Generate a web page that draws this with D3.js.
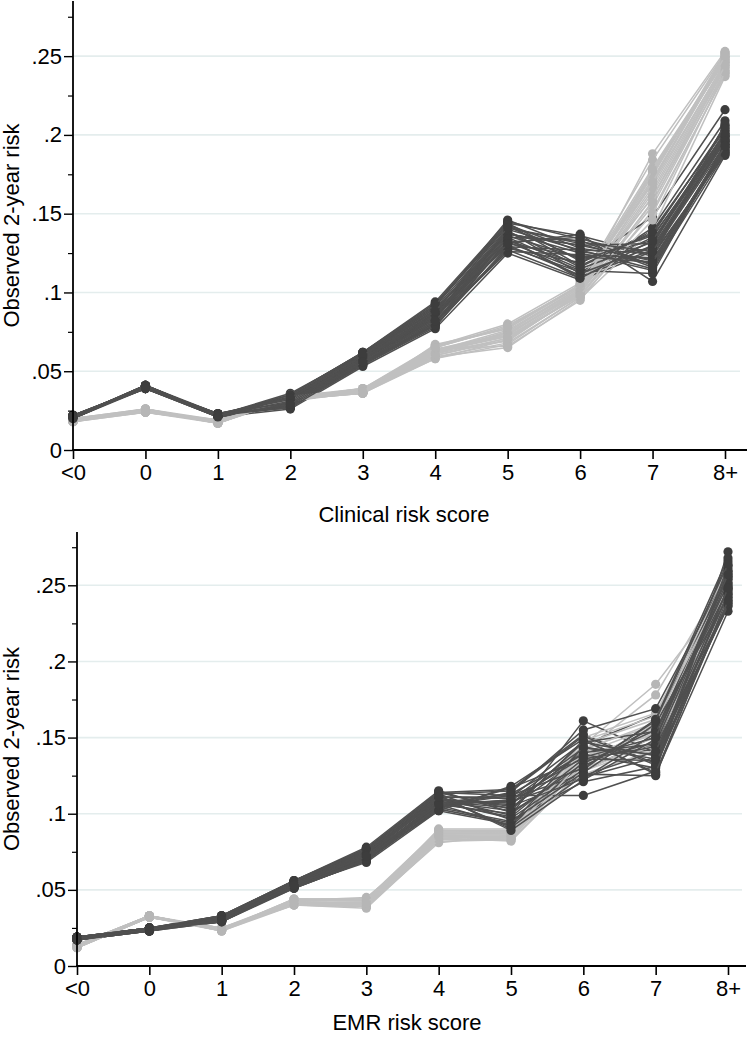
<!DOCTYPE html>
<html>
<head>
<meta charset="utf-8">
<script src="https://cdn.jsdelivr.net/npm/d3@7"></script>
<style>
  html, body { margin: 0; padding: 0; background: #fff; }
  svg { display: block; font-family: "Liberation Sans", Arial, sans-serif; }
</style>
</head>
<body>
<svg id="chart" width="748" height="1050"></svg>
<script>
// ---------- DATA ----------
const categories = ["<0", "0", "1", "2", "3", "4", "5", "6", "7", "8+"];
const yTickValues = [0, 0.05, 0.1, 0.15, 0.2, 0.25];
const yTickLabels = ["0", ".05", ".1", ".15", ".2", ".25"];
const yMinorTicks = [0.025, 0.075, 0.125, 0.175, 0.225, 0.275];
const topXTitle = "Clinical risk score";
const bottomXTitle = "EMR risk score";
const yTitle = "Observed 2-year risk";

// Top panel (Clinical risk score) – light gray replicates
const clinicalLight = [
  [0.019,0.025,0.018,0.033,0.037,0.062,0.072,0.100,0.165,0.245],
  [0.018,0.026,0.017,0.032,0.038,0.065,0.078,0.104,0.172,0.250],
  [0.020,0.024,0.019,0.034,0.036,0.059,0.068,0.097,0.158,0.240],
  [0.019,0.025,0.018,0.033,0.037,0.061,0.074,0.101,0.188,0.253],
  [0.019,0.025,0.018,0.031,0.038,0.064,0.066,0.095,0.152,0.238],
  [0.018,0.024,0.017,0.034,0.037,0.063,0.076,0.103,0.176,0.247],
  [0.020,0.026,0.019,0.032,0.036,0.058,0.070,0.099,0.161,0.243],
  [0.019,0.025,0.018,0.033,0.039,0.066,0.080,0.106,0.184,0.252],
  [0.019,0.025,0.018,0.035,0.037,0.060,0.071,0.098,0.155,0.241],
  [0.018,0.024,0.018,0.032,0.038,0.062,0.073,0.102,0.169,0.246],
  [0.020,0.026,0.017,0.033,0.036,0.067,0.077,0.105,0.179,0.249],
  [0.019,0.025,0.019,0.031,0.037,0.059,0.065,0.096,0.140,0.237],
  [0.019,0.025,0.018,0.034,0.038,0.063,0.069,0.100,0.163,0.244],
  [0.018,0.025,0.018,0.033,0.037,0.061,0.075,0.103,0.174,0.251],
  [0.020,0.024,0.018,0.032,0.036,0.064,0.072,0.098,0.150,0.239],
  [0.019,0.026,0.017,0.033,0.039,0.065,0.079,0.104,0.177,0.248],
  [0.019,0.025,0.018,0.032,0.037,0.063,0.073,0.101,0.167,0.246],
  [0.018,0.026,0.018,0.034,0.038,0.060,0.070,0.099,0.171,0.249],
  [0.020,0.025,0.017,0.033,0.036,0.066,0.077,0.104,0.160,0.242],
  [0.019,0.024,0.019,0.031,0.038,0.062,0.075,0.102,0.175,0.252],
  [0.019,0.025,0.018,0.033,0.037,0.058,0.067,0.097,0.146,0.240],
  [0.018,0.026,0.018,0.032,0.036,0.064,0.074,0.100,0.178,0.247],
  [0.020,0.025,0.017,0.034,0.039,0.061,0.071,0.098,0.157,0.244],
  [0.019,0.024,0.018,0.033,0.037,0.065,0.078,0.105,0.170,0.250]
];

// Top panel – dark gray replicates
const clinicalDark = [
  [0.021,0.040,0.022,0.030,0.057,0.084,0.136,0.122,0.128,0.197],
  [0.020,0.041,0.021,0.028,0.055,0.080,0.141,0.131,0.118,0.192],
  [0.022,0.039,0.023,0.033,0.060,0.088,0.129,0.113,0.135,0.201],
  [0.021,0.040,0.022,0.035,0.062,0.093,0.144,0.136,0.124,0.188],
  [0.021,0.041,0.023,0.027,0.054,0.078,0.133,0.118,0.148,0.216],
  [0.020,0.039,0.021,0.031,0.058,0.086,0.138,0.125,0.114,0.194],
  [0.022,0.040,0.022,0.029,0.056,0.082,0.127,0.109,0.130,0.206],
  [0.021,0.040,0.022,0.036,0.061,0.091,0.146,0.128,0.121,0.190],
  [0.021,0.041,0.022,0.032,0.059,0.087,0.131,0.137,0.107,0.187],
  [0.020,0.040,0.023,0.030,0.057,0.083,0.139,0.116,0.139,0.203],
  [0.022,0.039,0.021,0.026,0.053,0.077,0.125,0.108,0.126,0.196],
  [0.021,0.040,0.022,0.034,0.060,0.090,0.142,0.121,0.133,0.199],
  [0.021,0.041,0.022,0.028,0.055,0.081,0.135,0.133,0.116,0.191],
  [0.020,0.040,0.023,0.031,0.058,0.085,0.130,0.111,0.141,0.209],
  [0.022,0.039,0.022,0.033,0.061,0.092,0.143,0.126,0.119,0.193],
  [0.021,0.040,0.021,0.029,0.056,0.079,0.128,0.119,0.137,0.205],
  [0.021,0.041,0.022,0.035,0.062,0.094,0.145,0.134,0.123,0.189],
  [0.020,0.040,0.023,0.027,0.054,0.080,0.132,0.114,0.112,0.195],
  [0.022,0.039,0.022,0.032,0.059,0.089,0.137,0.130,0.131,0.200],
  [0.021,0.040,0.022,0.030,0.057,0.084,0.134,0.110,0.127,0.198],
  [0.021,0.040,0.022,0.031,0.058,0.086,0.140,0.127,0.125,0.194],
  [0.020,0.041,0.022,0.029,0.056,0.083,0.135,0.115,0.132,0.202],
  [0.022,0.040,0.021,0.034,0.061,0.090,0.132,0.135,0.117,0.190],
  [0.021,0.039,0.023,0.032,0.059,0.087,0.144,0.120,0.136,0.197],
  [0.021,0.040,0.022,0.028,0.055,0.081,0.126,0.124,0.122,0.207],
  [0.020,0.041,0.022,0.033,0.060,0.089,0.139,0.112,0.129,0.199],
  [0.022,0.040,0.023,0.030,0.057,0.085,0.137,0.130,0.120,0.192],
  [0.021,0.039,0.021,0.035,0.062,0.092,0.143,0.117,0.138,0.204],
  [0.021,0.040,0.022,0.027,0.054,0.079,0.129,0.127,0.115,0.188],
  [0.020,0.041,0.022,0.031,0.058,0.086,0.134,0.109,0.133,0.200],
  [0.022,0.040,0.023,0.033,0.060,0.088,0.141,0.132,0.126,0.196],
  [0.021,0.039,0.022,0.029,0.056,0.082,0.131,0.123,0.119,0.193]
];

// Bottom panel (EMR risk score) – light gray replicates
const emrLight = [
  [0.013,0.033,0.024,0.042,0.041,0.086,0.086,0.138,0.152,0.250],
  [0.012,0.032,0.025,0.041,0.039,0.083,0.084,0.132,0.160,0.255],
  [0.014,0.033,0.023,0.043,0.043,0.088,0.088,0.145,0.185,0.247],
  [0.013,0.032,0.024,0.040,0.038,0.082,0.083,0.128,0.145,0.242],
  [0.013,0.033,0.024,0.044,0.044,0.089,0.089,0.141,0.178,0.258],
  [0.012,0.032,0.025,0.042,0.040,0.085,0.085,0.135,0.156,0.252],
  [0.014,0.033,0.023,0.041,0.042,0.087,0.087,0.148,0.164,0.262],
  [0.013,0.032,0.024,0.043,0.045,0.084,0.082,0.130,0.148,0.245],
  [0.013,0.033,0.024,0.042,0.041,0.090,0.090,0.143,0.158,0.249],
  [0.012,0.032,0.025,0.040,0.039,0.081,0.086,0.126,0.142,0.240],
  [0.014,0.033,0.023,0.044,0.043,0.086,0.084,0.150,0.166,0.257],
  [0.013,0.032,0.024,0.041,0.040,0.088,0.088,0.137,0.154,0.253],
  [0.013,0.033,0.024,0.042,0.042,0.087,0.087,0.140,0.157,0.251],
  [0.012,0.032,0.024,0.041,0.040,0.084,0.085,0.133,0.150,0.246],
  [0.014,0.033,0.025,0.043,0.043,0.089,0.088,0.146,0.162,0.259],
  [0.013,0.032,0.023,0.040,0.039,0.083,0.083,0.129,0.147,0.243],
  [0.013,0.033,0.024,0.044,0.044,0.086,0.086,0.142,0.160,0.254],
  [0.012,0.032,0.024,0.042,0.041,0.085,0.084,0.136,0.153,0.248]
];

// Bottom panel – dark gray replicates
const emrDark = [
  [0.018,0.024,0.031,0.053,0.072,0.108,0.104,0.138,0.142,0.250],
  [0.017,0.023,0.029,0.051,0.069,0.103,0.094,0.128,0.151,0.262],
  [0.019,0.025,0.033,0.056,0.077,0.114,0.116,0.152,0.133,0.241],
  [0.018,0.024,0.030,0.054,0.073,0.110,0.099,0.161,0.140,0.236],
  [0.018,0.024,0.032,0.052,0.070,0.105,0.112,0.112,0.128,0.272],
  [0.017,0.023,0.031,0.055,0.075,0.112,0.090,0.145,0.165,0.255],
  [0.019,0.025,0.030,0.053,0.071,0.107,0.108,0.124,0.137,0.246],
  [0.018,0.024,0.029,0.052,0.068,0.102,0.118,0.149,0.126,0.233],
  [0.018,0.024,0.033,0.056,0.078,0.115,0.101,0.131,0.158,0.266],
  [0.017,0.023,0.031,0.054,0.074,0.109,0.106,0.141,0.145,0.252],
  [0.019,0.025,0.032,0.055,0.076,0.113,0.096,0.121,0.131,0.239],
  [0.018,0.024,0.030,0.051,0.069,0.104,0.114,0.155,0.169,0.258],
  [0.018,0.024,0.031,0.053,0.072,0.106,0.092,0.134,0.147,0.248],
  [0.017,0.023,0.029,0.054,0.073,0.111,0.110,0.126,0.125,0.243],
  [0.019,0.025,0.033,0.056,0.077,0.114,0.103,0.147,0.154,0.260],
  [0.018,0.024,0.032,0.052,0.070,0.103,0.117,0.136,0.135,0.237],
  [0.018,0.024,0.030,0.055,0.075,0.108,0.097,0.129,0.162,0.268],
  [0.017,0.023,0.031,0.053,0.071,0.105,0.109,0.143,0.139,0.244],
  [0.019,0.025,0.032,0.054,0.074,0.112,0.089,0.122,0.149,0.256],
  [0.018,0.024,0.030,0.052,0.070,0.107,0.113,0.139,0.130,0.249],
  [0.018,0.024,0.031,0.054,0.073,0.109,0.107,0.140,0.146,0.254],
  [0.017,0.024,0.030,0.052,0.071,0.106,0.100,0.133,0.155,0.247],
  [0.019,0.023,0.032,0.055,0.075,0.111,0.111,0.147,0.138,0.259],
  [0.018,0.025,0.031,0.053,0.072,0.104,0.095,0.127,0.159,0.242],
  [0.018,0.024,0.029,0.056,0.076,0.113,0.115,0.151,0.132,0.263],
  [0.017,0.024,0.033,0.051,0.069,0.107,0.098,0.136,0.144,0.238],
  [0.019,0.025,0.030,0.054,0.074,0.110,0.105,0.123,0.153,0.251],
  [0.018,0.023,0.032,0.053,0.071,0.102,0.093,0.144,0.136,0.245],
  [0.018,0.024,0.031,0.055,0.077,0.114,0.112,0.130,0.161,0.264],
  [0.017,0.024,0.029,0.052,0.070,0.108,0.102,0.148,0.127,0.240],
  [0.019,0.025,0.033,0.054,0.073,0.106,0.109,0.137,0.150,0.257],
  [0.018,0.024,0.030,0.053,0.072,0.111,0.091,0.125,0.141,0.248]
];

// ---------- DRAW ----------
const svg = d3.select("#chart");
const FONT = 22;

function drawPanel(cfg) {
  const g = svg.append("g");
  const x = d3.scalePoint().domain(categories).range([cfg.x0, cfg.x1]);
  const y = d3.scaleLinear().domain([0, 0.285]).range([cfg.yBottom, cfg.yTop]);

  // gridlines
  g.selectAll("line.grid").data(yTickValues.filter(v => v > 0)).join("line")
    .attr("x1", cfg.x0 + 1).attr("x2", cfg.gridEnd)
    .attr("y1", d => y(d)).attr("y2", d => y(d))
    .attr("stroke", "#e4eded").attr("stroke-width", 1.6);

  // series (interleaved light / dark like overlaid replicates)
  const line = d3.line().x((d, i) => x(categories[i])).y(d => y(d));
  const n = Math.max(cfg.light.length, cfg.dark.length);
  for (let i = 0; i < n; i++) {
    [[cfg.light[i], "#c0c0c0", "#b6b6b6"], [cfg.dark[i], "#505050", "#3d3d3d"]].forEach(([s, lc, mc]) => {
      if (!s) return;
      const sg = g.append("g");
      sg.append("path").datum(s).attr("d", line)
        .attr("fill", "none").attr("stroke", lc).attr("stroke-width", 1.5);
      sg.selectAll("circle").data(s).join("circle")
        .attr("cx", (d, j) => x(categories[j])).attr("cy", d => y(d))
        .attr("r", 4.6).attr("fill", mc);
    });
  }

  // y axis
  const yAxis = d3.axisLeft(y).tickValues(yTickValues)
    .tickFormat((d, i) => yTickLabels[i]).tickSize(9).tickPadding(2);
  const ya = g.append("g").attr("transform", `translate(${cfg.x0},0)`).call(yAxis);
  ya.select(".domain").remove();
  ya.selectAll(".tick line").attr("stroke", "#000").attr("stroke-width", 1.4);
  ya.selectAll(".tick text").attr("font-size", FONT).attr("fill", "#000")
    .attr("font-family", "Liberation Sans, Arial, sans-serif");
  const yMinor = d3.axisLeft(y).tickValues(yMinorTicks).tickFormat("").tickSize(5);
  const ym = g.append("g").attr("transform", `translate(${cfg.x0},0)`).call(yMinor);
  ym.select(".domain").remove();
  ym.selectAll(".tick line").attr("stroke", "#000").attr("stroke-width", 1.2);
  g.append("line").attr("x1", cfg.x0).attr("x2", cfg.x0)
    .attr("y1", y(0.285)).attr("y2", cfg.yBottom + 0.8)
    .attr("stroke", "#000").attr("stroke-width", 1.8);

  // x axis
  const xAxis = d3.axisBottom(x).tickSize(9).tickPadding(5);
  const xa = g.append("g").attr("transform", `translate(0,${cfg.yBottom})`).call(xAxis);
  xa.select(".domain").remove();
  xa.selectAll(".tick line").attr("stroke", "#000").attr("stroke-width", 1.6);
  xa.selectAll(".tick text").attr("font-size", FONT).attr("fill", "#000")
    .attr("font-family", "Liberation Sans, Arial, sans-serif");
  g.append("line").attr("x1", cfg.x0 - 0.8).attr("x2", cfg.axisEnd)
    .attr("y1", cfg.yBottom).attr("y2", cfg.yBottom)
    .attr("stroke", "#000").attr("stroke-width", 1.8);

  // titles
  g.append("text").attr("x", cfg.xTitleX).attr("y", cfg.xTitleY)
    .attr("text-anchor", "middle").attr("font-size", FONT).attr("fill", "#000")
    .text(cfg.xTitle);
  g.append("text")
    .attr("transform", `translate(19,${(cfg.yTop + cfg.yBottom) / 2}) rotate(-90)`)
    .attr("text-anchor", "middle").attr("font-size", FONT).attr("fill", "#000")
    .text(yTitle);
}

drawPanel({
  x0: 73, x1: 725, axisEnd: 747, gridEnd: 740,
  yTop: 1, yBottom: 450,
  light: clinicalLight, dark: clinicalDark,
  xTitle: topXTitle, xTitleX: 404, xTitleY: 522
});

drawPanel({
  x0: 77, x1: 728, axisEnd: 746, gridEnd: 742,
  yTop: 532, yBottom: 966,
  light: emrLight, dark: emrDark,
  xTitle: bottomXTitle, xTitleX: 407, xTitleY: 1030
});
</script>
</body>
</html>
